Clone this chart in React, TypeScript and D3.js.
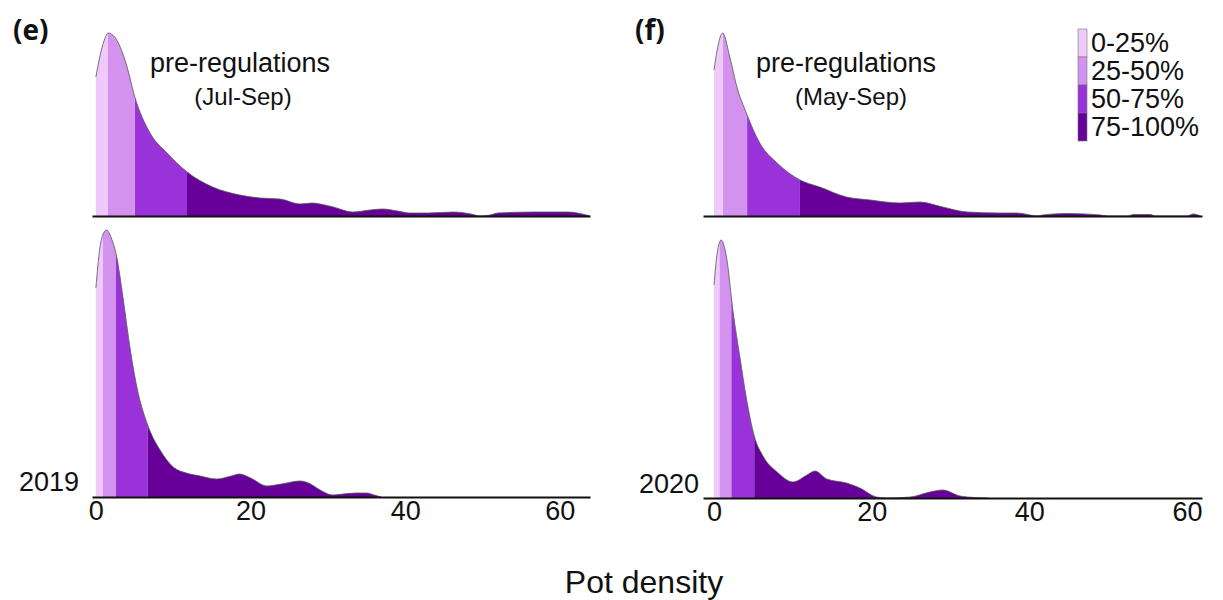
import React, { useRef, useEffect } from "react"
import * as d3 from "d3"

const xTicks = [0, 20, 40, 60]
const bandLabels = ["0-25%", "25-50%", "50-75%", "75-100%"]
const bandColors = ["#EFC9F9", "#D492EF", "#9933D9", "#660099"]

// (e) pre-regulations, Jul-Sep
const ePreX = [0, 0.5, 1.1, 1.6, 2.7, 4.0, 5.0, 7.0, 9.2, 11.8, 15.1, 18.6, 21.2, 23.8, 26.4, 28, 29, 30.7, 33.2, 35.5, 37.1, 39, 40.6, 43, 46.2, 48.5, 49.7, 51, 52, 56.5, 61, 63.9]
const ePreY = [0.139, 0.159, 0.176, 0.183, 0.176, 0.15, 0.12, 0.083, 0.063, 0.044, 0.029, 0.021, 0.018, 0.017, 0.012, 0.013, 0.012, 0.009, 0.004, 0.006, 0.007, 0.005, 0.003, 0.003, 0.004, 0.002, 0, 0.001, 0.003, 0.004, 0.004, 0]
const ePreQ = [1.55, 5.05, 11.8]

// (e) 2019
const e2019X = [0, 0.5, 1.0, 1.4, 2.0, 2.7, 3.5, 4.4, 5.3, 6.7, 8.3, 10, 11.7, 13.5, 15.6, 17.5, 18.6, 20, 22.1, 24, 26.4, 27.5, 29, 30.6, 32, 33.7, 35, 36, 36.9]
const e2019Y = [0.209, 0.248, 0.264, 0.267, 0.259, 0.24, 0.2, 0.15, 0.11, 0.072, 0.047, 0.03, 0.024, 0.021, 0.018, 0.021, 0.023, 0.019, 0.011, 0.013, 0.016, 0.014, 0.007, 0.002, 0.003, 0.004, 0.004, 0.002, 0]
const e2019Q = [0.9, 2.6, 6.7]

// (f) pre-regulations, May-Sep
const fPreX = [0, 0.4, 1.1, 2.0, 2.9, 4.1, 5.8, 8.0, 10.9, 13.4, 16.8, 19.8, 23.6, 26.1, 29, 32.1, 36.3, 38.4, 41.1, 41.7, 44.8, 49, 49.9, 52.5, 53.2, 55.3, 56, 60, 60.8, 61.7]
const fPreY = [0.146, 0.166, 0.183, 0.159, 0.129, 0.103, 0.073, 0.053, 0.036, 0.029, 0.019, 0.016, 0.013, 0.014, 0.009, 0.004, 0.003, 0.003, 0, 0.001, 0.0025, 0.001, 0, 0, 0.0015, 0.0015, 0, 0, 0.002, 0]
const fPreQ = [1.14, 4.2, 10.9]

// (f) 2020
const f2020X = [0, 0.4, 0.9, 1.6, 2.4, 3.3, 4.1, 5.1, 6.2, 8.0, 10.0, 11.8, 12.8, 14.3, 16.8, 18.5, 20.6, 21.9, 24.9, 27.4, 29, 31.2, 32.1, 34.8]
const f2020Y = [0.213, 0.245, 0.258, 0.24, 0.187, 0.14, 0.1, 0.062, 0.042, 0.026, 0.016, 0.023, 0.027, 0.019, 0.015, 0.01, 0.001, 0, 0.001, 0.006, 0.008, 0.002, 0.001, 0]
const f2020Q = [0.7, 2.2, 5.1]

const columns = {
    left: {domain: [-0.5, 63.9], range: [92, 590]},
    right: {domain: [-1.4, 61.9], range: [703, 1202]},
}

const panels = [
    {id: "ePre", xs: ePreX, ys: ePreY, qs: ePreQ, col: "left", base: 216, ticks: false},
    {id: "e2019", xs: e2019X, ys: e2019Y, qs: e2019Q, col: "left", base: 497, ticks: true},
    {id: "fPre", xs: fPreX, ys: fPreY, qs: fPreQ, col: "right", base: 216, ticks: false},
    {id: "f2020", xs: f2020X, ys: f2020Y, qs: f2020Q, col: "right", base: 498, ticks: true},
]

const sans = "'Liberation Sans', Arial, sans-serif"

const App = () => {
    const element = useRef<SVGSVGElement>(null)

    useEffect(() => {
        const svg = d3.select(element.current)
        svg.selectAll("*").remove()
        const defs = svg.append("defs")

        panels.forEach(p => {
            const c = columns[p.col]
            const x = d3.scaleLinear().domain(c.domain).range(c.range)
            const y = d3.scaleLinear().domain([0, 0.3]).range([p.base, p.base - 300])
            const pts = p.xs.map((v, i) => [v, p.ys[i]])

            const area = d3.area()
                .x(d => x(d[0]))
                .y0(p.base)
                .y1(d => y(d[1]))
                .curve(d3.curveMonotoneX)
            const line = d3.line()
                .x(d => x(d[0]))
                .y(d => y(d[1]))
                .curve(d3.curveMonotoneX)

            const g = svg.append("g")
            bandColors.forEach((col, i) => {
                const lo = i === 0 ? c.domain[0] : p.qs[i - 1]
                const hi = i === 3 ? c.domain[1] : p.qs[i]
                const cid = `clip-${p.id}-${i}`
                defs.append("clipPath").attr("id", cid)
                    .append("rect")
                    .attr("x", x(lo)).attr("y", 0)
                    .attr("width", x(hi) - x(lo)).attr("height", 600)
                g.append("path")
                    .datum(pts)
                    .attr("clip-path", `url(#${cid})`)
                    .attr("fill", col)
                    .attr("d", area)
            })
            g.append("path")
                .datum(pts)
                .attr("fill", "none")
                .attr("stroke", "#555")
                .attr("stroke-width", 0.8)
                .attr("d", line)

            const axis = svg.append("g")
                .attr("transform", `translate(0,${p.base})`)
                .call(d3.axisBottom(x)
                    .tickValues(p.ticks ? xTicks : [])
                    .tickSize(0)
                    .tickSizeOuter(0)
                    .tickPadding(4))
            axis.select(".domain").attr("stroke", "#111").attr("stroke-width", 2)
            axis.selectAll("text")
                .attr("font-family", sans)
                .attr("font-size", 27)
                .attr("fill", "#111")
        })

        // panel letters
        ;[["(e)", 13], ["(f)", 635]].forEach(([t, px]) => {
            svg.append("text")
                .attr("x", px).attr("y", 40)
                .attr("font-family", "'Open Sans', sans-serif")
                .attr("font-weight", "bold")
                .attr("font-size", 28)
                .attr("fill", "#111")
                .text(t)
        })

        // annotations
        ;[[240, 243, "(Jul-Sep)"], [846, 851, "(May-Sep)"]].forEach(([c1, c2, t]) => {
            svg.append("text")
                .attr("x", c1).attr("y", 72)
                .attr("text-anchor", "middle")
                .attr("font-family", sans).attr("font-size", 27)
                .attr("fill", "#111")
                .text("pre-regulations")
            svg.append("text")
                .attr("x", c2).attr("y", 105)
                .attr("text-anchor", "middle")
                .attr("font-family", sans).attr("font-size", 24)
                .attr("fill", "#111")
                .text(t)
        })

        ;[["2019", 79, 491], ["2020", 699, 493]].forEach(([t, px, py]) => {
            svg.append("text")
                .attr("x", px).attr("y", py)
                .attr("text-anchor", "end")
                .attr("font-family", sans).attr("font-size", 27)
                .attr("fill", "#111")
                .text(t)
        })

        svg.append("text")
            .attr("x", 644).attr("y", 593)
            .attr("text-anchor", "middle")
            .attr("font-family", sans).attr("font-size", 32)
            .attr("fill", "#111")
            .text("Pot density")

        // legend
        const leg = svg.append("g")
        bandLabels.forEach((lab, i) => {
            leg.append("rect")
                .attr("x", 1078).attr("y", 29 + i * 28)
                .attr("width", 9).attr("height", 28)
                .attr("fill", bandColors[i])
                .attr("stroke", "#777").attr("stroke-width", 0.6)
            leg.append("text")
                .attr("x", 1091).attr("y", 52 + i * 28)
                .attr("font-family", sans).attr("font-size", 27)
                .attr("fill", "#111")
                .text(lab)
        })
    }, [])

    return (
        <svg ref={element} width={1223} height={600}
            style={{position: "absolute", left: 0, top: 0, background: "#fff"}} />
    )
}

export default App
